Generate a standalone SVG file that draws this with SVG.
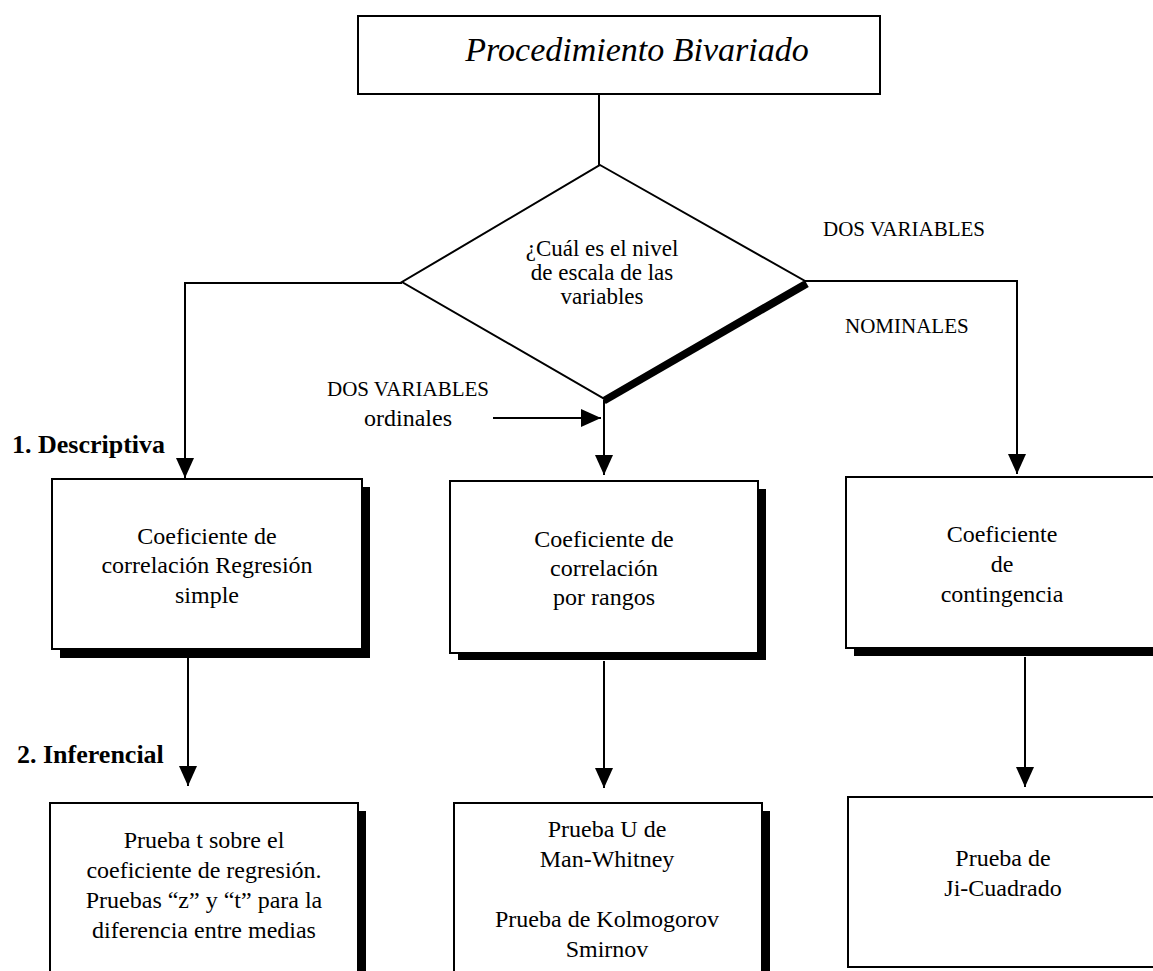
<svg xmlns="http://www.w3.org/2000/svg" width="1153" height="971" viewBox="0 0 1153 971">
<style>
.t{font-family:"Liberation Serif","Times New Roman",serif;font-size:24px;fill:#000;text-anchor:middle}
.d{font-family:"Liberation Serif","Times New Roman",serif;font-size:23px;fill:#000;text-anchor:middle}
.lbl{font-family:"Liberation Serif","Times New Roman",serif;font-size:21px;fill:#000}
.b{font-family:"Liberation Serif","Times New Roman",serif;font-size:26px;font-weight:bold;fill:#000}
.box{fill:#fff;stroke:#000;stroke-width:2}
.sh{fill:#000}
.c{fill:none;stroke:#000;stroke-width:2}
</style>
<defs>
<marker id="ah" markerUnits="userSpaceOnUse" markerWidth="20" markerHeight="18" refX="20" refY="9" orient="auto">
<path d="M0,0 L20,9 L0,18 z" fill="#000"/>
</marker>
</defs>
<rect width="1153" height="971" fill="#fff"/>

<g id="connectors">
<line class="c" x1="599" y1="94" x2="599" y2="166"/>
<polyline class="c" points="402,283 185,283 185,478" marker-end="url(#ah)"/>
<line class="c" x1="604" y1="400" x2="604" y2="475" marker-end="url(#ah)"/>
<line class="c" x1="493" y1="418" x2="601" y2="418" marker-end="url(#ah)"/>
<polyline class="c" points="805,281 1017,281 1017,474" marker-end="url(#ah)"/>
<line class="c" x1="188" y1="658" x2="188" y2="786" marker-end="url(#ah)"/>
<line class="c" x1="604" y1="661" x2="604" y2="788" marker-end="url(#ah)"/>
<line class="c" x1="1025" y1="657" x2="1025" y2="787" marker-end="url(#ah)"/>
</g>

<g id="n_top">
<rect class="box" x="358" y="16" width="522" height="78"/>
<text x="637" y="61" style="font-family:'Liberation Serif','Times New Roman',serif;font-style:italic;font-size:34px;text-anchor:middle">Procedimiento Bivariado</text>
</g>

<g id="n_diamond">
<line x1="807" y1="284" x2="604" y2="401" stroke="#000" stroke-width="7"/>
<polygon points="600,165 805,281 603,398 402,282" fill="#fff" stroke="#000" stroke-width="2"/>
<text class="d" x="602" y="256">¿Cuál es el nivel</text>
<text class="d" x="602" y="280">de escala de las</text>
<text class="d" x="602" y="304">variables</text>
</g>

<g id="l_dosnom">
<text class="lbl" x="823" y="236">DOS VARIABLES</text>
<text class="lbl" x="845" y="333">NOMINALES</text>
</g>
<g id="l_dosord">
<text class="lbl" x="408" y="396" text-anchor="middle">DOS VARIABLES</text>
<text class="t" x="408" y="426">ordinales</text>
</g>
<g id="l_desc"><text class="b" x="12" y="453">1. Descriptiva</text></g>
<g id="l_inf"><text class="b" x="17" y="763">2. Inferencial</text></g>

<g id="n_b1">
<rect class="sh" x="60" y="487" width="310" height="171"/>
<rect class="box" x="52" y="479" width="310" height="170"/>
<text class="t" x="207" y="544">Coeficiente de</text>
<text class="t" x="207" y="573">correlación Regresión</text>
<text class="t" x="207" y="603">simple</text>
</g>

<g id="n_b2">
<rect class="sh" x="458" y="489" width="308" height="171"/>
<rect class="box" x="450" y="481" width="308" height="172"/>
<text class="t" x="604" y="547">Coeficiente de</text>
<text class="t" x="604" y="576">correlación</text>
<text class="t" x="604" y="605">por rangos</text>
</g>

<g id="n_b3">
<rect class="sh" x="854" y="485" width="320" height="171"/>
<rect class="box" x="846" y="477" width="320" height="171"/>
<text class="t" x="1002" y="542">Coeficiente</text>
<text class="t" x="1002" y="572">de</text>
<text class="t" x="1002" y="602">contingencia</text>
</g>

<g id="n_b4">
<rect class="sh" x="58" y="811" width="308" height="180"/>
<rect class="box" x="50" y="803" width="308" height="180"/>
<text class="t" x="204" y="848">Prueba t sobre el</text>
<text class="t" x="204" y="878">coeficiente de regresión.</text>
<text class="t" x="204" y="908">Pruebas “z” y “t” para la</text>
<text class="t" x="204" y="938">diferencia entre medias</text>
</g>

<g id="n_b5">
<rect class="sh" x="462" y="811" width="308" height="180"/>
<rect class="box" x="454" y="803" width="308" height="180"/>
<text class="t" x="607" y="837">Prueba U de</text>
<text class="t" x="607" y="867">Man-Whitney</text>
<text class="t" x="607" y="927">Prueba de Kolmogorov</text>
<text class="t" x="607" y="957">Smirnov</text>
</g>

<g id="n_b6">
<rect class="box" x="848" y="797" width="320" height="170"/>
<text class="t" x="1003" y="866">Prueba de</text>
<text class="t" x="1003" y="896">Ji-Cuadrado</text>
</g>
</svg>
